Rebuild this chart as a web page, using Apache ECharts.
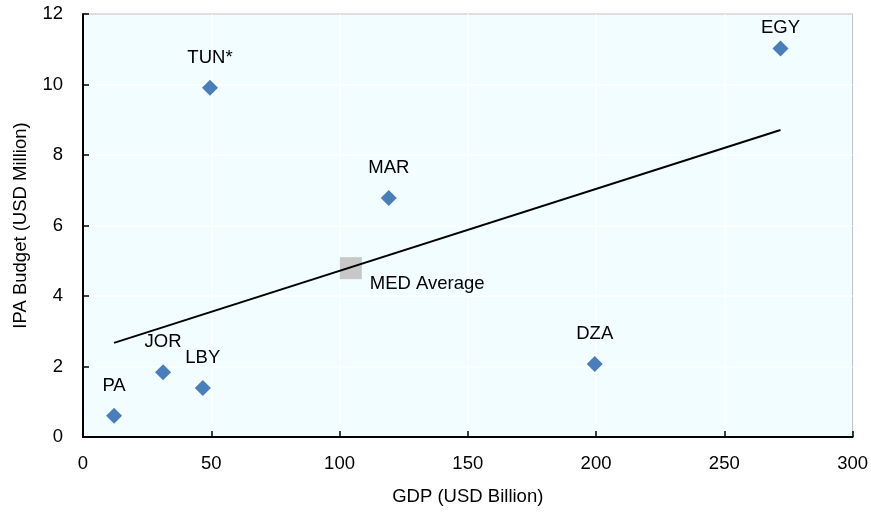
<!DOCTYPE html>
<html>
<head>
<meta charset="utf-8">
<script src="https://cdn.jsdelivr.net/npm/echarts@6/dist/echarts.min.js"></script>
<style>
html,body{margin:0;padding:0;background:#fff;}
#c{width:871px;height:516px;}
</style>
</head>
<body>
<div id="c"></div>
<script>
var countries = ['PA','JOR','LBY','TUN*','MAR','DZA','EGY'];
var gdp = [12.1, 31.2, 46.7, 49.5, 119.2, 199.5, 271.9];
var ipa = [0.6, 1.84, 1.39, 9.91, 6.78, 2.07, 11.02];
var avgName = 'MED Average';
var avgGdp = [104.4];
var avgIpa = [4.79];
var trendGdp = [12.1, 271.9];
var trendIpa = [2.67, 8.71];
var xTicks = [0, 50, 100, 150, 200, 250, 300];
var yTicks = [0, 2, 4, 6, 8, 10, 12];

var labelDy = {'EGY': -21};

var font = 'Liberation Sans, Arial, sans-serif';
var fs = 18.5;
var chart = echarts.init(document.getElementById('c'));
chart.setOption({
  animation: false,
  grid: {left: 83, right: 18, top: 14, bottom: 79, show: true, backgroundColor: '#f1fdff', borderColor: '#000', borderWidth: 1},
  xAxis: {
    type: 'value', min: xTicks[0], max: xTicks[xTicks.length-1], interval: 50,
    name: 'GDP (USD Billion)', nameLocation: 'middle', nameGap: 50,
    nameTextStyle: {fontFamily: font, fontSize: fs, color: '#000'},
    axisLine: {lineStyle: {color: '#000', width: 2}},
    axisTick: {inside: true, length: 6, lineStyle: {color: '#000', width: 1.5}},
    axisLabel: {fontFamily: font, fontSize: fs, color: '#000', margin: 17},
    splitLine: {show: true, lineStyle: {color: '#ffffff', width: 1.5}}
  },
  yAxis: {
    type: 'value', min: yTicks[0], max: yTicks[yTicks.length-1], interval: 2,
    name: 'IPA Budget (USD Million)', nameLocation: 'middle', nameGap: 53,
    nameTextStyle: {fontFamily: font, fontSize: fs, color: '#000'},
    axisLine: {lineStyle: {color: '#000', width: 2}},
    axisTick: {inside: true, length: 6, lineStyle: {color: '#000', width: 1.5}},
    axisLabel: {fontFamily: font, fontSize: fs, color: '#000', margin: 20},
    splitLine: {show: true, lineStyle: {color: '#ffffff', width: 1.5}}
  },
  series: [
    {
      type: 'line', data: trendGdp.map(function(v,i){return [v, trendIpa[i]];}),
      symbol: 'none', lineStyle: {color: '#000', width: 2}, z: 3, silent: true
    },
    {
      type: 'scatter', symbol: 'rect', symbolSize: 22,
      itemStyle: {color: '#c8c8c8', opacity: 1}, z: 2,
      data: avgGdp.map(function(v,i){return {name: avgName, value: [v, avgIpa[i]]};}),
      label: {show: true, formatter: '{b}', position: [30, 27], align: 'left', verticalAlign: 'middle', fontFamily: font, fontSize: fs, color: '#000'}
    },
    {
      type: 'scatter', symbol: 'diamond', symbolSize: 16,
      itemStyle: {color: '#4a7ebb', opacity: 1}, z: 4,
      data: countries.map(function(c,i){
        return {name: c, value: [gdp[i], ipa[i]],
          label: {offset: [0, (labelDy[c] !== undefined ? labelDy[c] : -30)]}};
      }),
      label: {show: true, formatter: '{b}', position: 'inside', fontFamily: font, fontSize: fs, color: '#000'}
    }
  ]
});
</script>
</body>
</html>
